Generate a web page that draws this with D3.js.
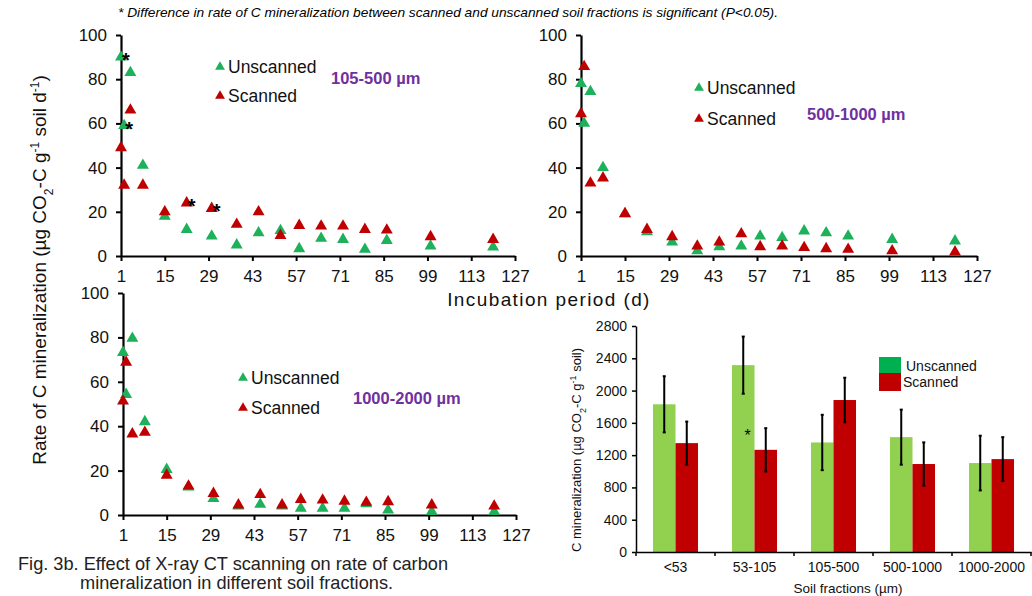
<!DOCTYPE html>
<html>
<head>
<meta charset="utf-8">
<script src="https://cdn.jsdelivr.net/npm/d3@7/dist/d3.min.js"></script>
<style>
  body { margin: 0; background: #fff; }
  svg text { font-family: "Liberation Sans", Arial, sans-serif; }
</style>
</head>
<body>
<div id="chart"></div>
<script>
// sampling days of the incubation (same for every fraction)
let days = [1, 2, 4, 8, 15, 22, 30, 38, 45, 52, 58, 65, 72, 79, 86, 100, 120];

// rate of C mineralization, ug CO2-C g-1 soil d-1
let unscanned105 = [90, 59, 83, 41, 18, 12, 9, 5, 10.5, 11.5, 3.3, 8, 7.5, 3, 7, 4.5, 4];
let scanned105 = [49, 32, 66, 32, 20, 24, 21.5, 14.3, 20, 9.3, 13.8, 13.5, 13.5, 12, 11.7, 8.7, 7.5];
let unscanned500 = [78, 60, 74.4, 40, 19, 11, 6.3, 2.3, 4.2, 4.5, 9, 8.3, 11.3, 10.5, 9, 7.5, 6.8];
let scanned500 = [64.4, 85.7, 33, 35.3, 19.2, 12, 8.7, 4.5, 6.3, 10, 4.2, 4.5, 3.8, 3.3, 3, 2.3, 1.8];
let unscanned1000 = [73.2, 54.3, 79.6, 42, 20.5, 12.6, 7.4, 4, 4.8, 4, 3, 3, 3, 5, 2.2, 1.5, 1.5];
let scanned1000 = [51.3, 68.8, 36.5, 37.2, 17.9, 13, 9.7, 4.5, 9.2, 4.5, 7, 6.7, 6.2, 5.7, 6, 4.5, 4];

// significant differences marked with *  (series, day)
let signif105 = [["u", 1], ["u", 2], ["s", 22], ["s", 30]];

let dayTicks = [1, 15, 29, 43, 57, 71, 85, 99, 113, 127];
let rateTicks = [0, 20, 40, 60, 80, 100];

// cumulative C mineralization per soil fraction
let fractions = ["<53", "53-105", "105-500", "500-1000", "1000-2000"];
let totalUnscanned = [1830, 2315, 1357, 1423, 1102];
let totalScanned = [1349, 1266, 1883, 1090, 1151];
let errUnscanned = [348, 354, 343, 341, 339];
let errScanned = [267, 268, 276, 268, 272];
let totalTicks = [0, 400, 800, 1200, 1600, 2000, 2400, 2800];
let signifFraction = "53-105";

let green = "#1cb15a", red = "#c00000", purple = "#7030a0";
let barGreen = "#92d050", legendGreen = "#00b050";

let svg = d3.select("#chart").append("svg")
  .attr("width", 1032)
  .attr("height", 596);

// note on top
svg.append("text")
  .attr("x", 118).attr("y", 17)
  .attr("font-size", 13.5)
  .attr("font-style", "italic")
  .attr("textLength", 660)
  .attr("lengthAdjust", "spacingAndGlyphs")
  .text("* Difference in rate of C mineralization between scanned and unscanned soil fractions is significant (P<0.05).");

let tri = d3.symbol().type(d3.symbolTriangle);

function drawPanel(p) {
  let x = d3.scaleLinear().domain([1, 127]).range([p.left, p.right]);
  let y = d3.scaleLinear().domain([0, 100]).range([p.bottom, p.top]);

  let g = svg.append("g");

  let xAxis = g.append("g")
    .attr("transform", `translate(0,${p.bottom})`)
    .call(d3.axisBottom(x).tickValues(dayTicks).tickSize(5).tickPadding(9).tickSizeOuter(0));
  let yAxis = g.append("g")
    .attr("transform", `translate(${p.left},0)`)
    .call(d3.axisLeft(y).tickValues(rateTicks).tickSize(5).tickPadding(9).tickSizeOuter(0));

  [xAxis, yAxis].forEach(function (a) {
    a.select(".domain").attr("stroke", "#000").attr("stroke-width", 2.2);
    a.selectAll(".tick line").attr("stroke", "#000").attr("stroke-width", 2);
    a.selectAll(".tick text").attr("font-size", 17).attr("fill", "#111");
  });

  // unscanned first, scanned on top
  let series = [
    { values: p.unscanned, color: green },
    { values: p.scanned, color: red }
  ];
  series.forEach(function (s) {
    g.selectAll(null)
      .data(days.map(function (d, i) { return { day: d, v: s.values[i] }; }))
      .enter()
      .append("path")
      .attr("d", tri.size(62))
      .attr("transform", function (d) { return `translate(${x(d.day)},${y(d.v)})`; })
      .attr("fill", s.color);
  });

  // asterisks
  (p.signif || []).forEach(function (m) {
    let vals = m[0] === "u" ? p.unscanned : p.scanned;
    let v = vals[days.indexOf(m[1])];
    g.append("text")
      .attr("x", x(m[1]) + 1)
      .attr("y", y(v) + 10)
      .attr("font-size", 20)
      .attr("font-weight", "bold")
      .text("*");
  });

  // legend
  let lg = [["Unscanned", green, p.legY], ["Scanned", red, p.legY + p.legGap]];
  lg.forEach(function (l) {
    g.append("path")
      .attr("d", tri.size(42))
      .attr("transform", `translate(${p.legX},${l[2]})`)
      .attr("fill", l[1]);
    g.append("text")
      .attr("x", p.legX + 8)
      .attr("y", l[2])
      .attr("dy", "0.35em")
      .attr("font-size", 17.5)
      .attr("fill", "#111")
      .text(l[0]);
  });

  g.append("text")
    .attr("x", p.labX)
    .attr("y", p.labY)
    .attr("dy", "0.35em")
    .attr("font-size", 16.5)
    .attr("font-weight", "bold")
    .attr("fill", purple)
    .text(p.label);
}

drawPanel({ left: 121, right: 515, top: 35, bottom: 256,
  unscanned: unscanned105, scanned: scanned105, signif: signif105,
  legX: 220, legY: 67, legGap: 29, labX: 331, labY: 78, label: "105-500 \u00b5m" });
drawPanel({ left: 581, right: 977, top: 35, bottom: 256,
  unscanned: unscanned500, scanned: scanned500,
  legX: 699, legY: 88, legGap: 31, labX: 807, labY: 114, label: "500-1000 \u00b5m" });
drawPanel({ left: 123, right: 516, top: 293, bottom: 515,
  unscanned: unscanned1000, scanned: scanned1000,
  legX: 243, legY: 378, legGap: 30, labX: 353, labY: 398, label: "1000-2000 \u00b5m" });

// shared axis titles
let yt = svg.append("text")
  .attr("transform", "translate(46,270) rotate(-90)")
  .attr("text-anchor", "middle")
  .attr("font-size", 19)
  .attr("fill", "#111");
yt.append("tspan").text("Rate of C mineralization (\u00b5g CO");
yt.append("tspan").attr("font-size", 12).attr("baseline-shift", "sub").text("2");
yt.append("tspan").text("-C g");
yt.append("tspan").attr("font-size", 12).attr("baseline-shift", "super").text("-1");
yt.append("tspan").text(" soil d");
yt.append("tspan").attr("font-size", 12).attr("baseline-shift", "super").text("-1");
yt.append("tspan").text(")");

svg.append("text")
  .attr("x", 549).attr("y", 306)
  .attr("text-anchor", "middle")
  .attr("font-size", 19)
  .attr("letter-spacing", 1.4)
  .attr("fill", "#111")
  .text("Incubation period (d)");

// caption
svg.append("text")
  .attr("x", 18).attr("y", 570)
  .attr("font-size", 18.2)
  .attr("fill", "#222")
  .text("Fig. 3b. Effect of X-ray CT scanning on rate of carbon");
svg.append("text")
  .attr("x", 80).attr("y", 589)
  .attr("font-size", 18.2)
  .attr("fill", "#222")
  .text("mineralization in different soil fractions.");

// ---- bar chart of total C mineralization ----
let bar = { left: 636, right: 1031, top: 326, bottom: 552 };
let xb = d3.scaleBand().domain(fractions).range([bar.left, bar.right])
  .paddingInner(0.43).paddingOuter(0.215);
let xs = d3.scaleBand().domain(["u", "s"]).range([0, xb.bandwidth()]);
let yb = d3.scaleLinear().domain([0, 2800]).range([bar.bottom, bar.top]);

let bg = svg.append("g");

let barData = [];
fractions.forEach(function (f, i) {
  barData.push({ f: f, k: "u", v: totalUnscanned[i], e: errUnscanned[i] });
  barData.push({ f: f, k: "s", v: totalScanned[i], e: errScanned[i] });
});

bg.selectAll("rect.bar")
  .data(barData)
  .enter()
  .append("rect")
  .attr("class", "bar")
  .attr("x", function (d) { return xb(d.f) + xs(d.k); })
  .attr("width", xs.bandwidth())
  .attr("y", function (d) { return yb(d.v); })
  .attr("height", function (d) { return yb(0) - yb(d.v); })
  .attr("fill", function (d) { return d.k === "u" ? barGreen : red; });

// error bars
let eb = bg.selectAll("g.err")
  .data(barData)
  .enter()
  .append("g")
  .attr("class", "err")
  .attr("transform", function (d) { return `translate(${xb(d.f) + xs(d.k) + xs.bandwidth() / 2},0)`; });
eb.append("line")
  .attr("y1", function (d) { return yb(d.v + d.e); })
  .attr("y2", function (d) { return yb(d.v - d.e); })
  .attr("stroke", "#000").attr("stroke-width", 2);
eb.append("line")
  .attr("x1", -1.5).attr("x2", 1.5)
  .attr("y1", function (d) { return yb(d.v + d.e); })
  .attr("y2", function (d) { return yb(d.v + d.e); })
  .attr("stroke", "#000").attr("stroke-width", 2);
eb.append("line")
  .attr("x1", -1.5).attr("x2", 1.5)
  .attr("y1", function (d) { return yb(d.v - d.e); })
  .attr("y2", function (d) { return yb(d.v - d.e); })
  .attr("stroke", "#000").attr("stroke-width", 2);

// axes
let byAxis = bg.append("g")
  .attr("transform", `translate(${bar.left},0)`)
  .call(d3.axisLeft(yb).tickValues(totalTicks).tickFormat(d3.format("d"))
    .tickSize(4).tickPadding(5).tickSizeOuter(0));
let bxAxis = bg.append("g")
  .attr("transform", `translate(0,${bar.bottom})`)
  .call(d3.axisBottom(xb).tickSize(0).tickPadding(10).tickSizeOuter(0));
[byAxis, bxAxis].forEach(function (a) {
  a.select(".domain").attr("stroke", "#000").attr("stroke-width", 1.5);
  a.selectAll(".tick line").attr("stroke", "#000").attr("stroke-width", 1.5);
  a.selectAll(".tick text").attr("font-size", 14).attr("fill", "#111");
});
// category separators below the x axis
bg.selectAll("line.sep")
  .data(d3.range(fractions.length + 1))
  .enter()
  .append("line")
  .attr("class", "sep")
  .attr("x1", function (i) { return bar.left + i * xb.step(); })
  .attr("x2", function (i) { return bar.left + i * xb.step(); })
  .attr("y1", bar.bottom).attr("y2", bar.bottom + 4)
  .attr("stroke", "#000").attr("stroke-width", 1.5);

// asterisk next to the significant pair
let si = fractions.indexOf(signifFraction);
bg.append("text")
  .attr("x", xb(signifFraction) + xs("s") - 10)
  .attr("y", yb(totalScanned[si]) - 9)
  .attr("font-size", 16)
  .text("*");

let byt = bg.append("text")
  .attr("transform", "translate(581,450) rotate(-90)")
  .attr("text-anchor", "middle")
  .attr("font-size", 13)
  .attr("fill", "#111");
byt.append("tspan").text("C mineralization (\u00b5g CO");
byt.append("tspan").attr("font-size", 9).attr("baseline-shift", "sub").text("2");
byt.append("tspan").text("-C g");
byt.append("tspan").attr("font-size", 9).attr("baseline-shift", "super").text("-1");
byt.append("tspan").text(" soil)");

bg.append("text")
  .attr("x", 848).attr("y", 593)
  .attr("text-anchor", "middle")
  .attr("font-size", 13.5)
  .attr("fill", "#111")
  .text("Soil fractions (\u00b5m)");

// legend
[["Unscanned", legendGreen, 357], ["Scanned", red, 373]].forEach(function (l) {
  bg.append("rect")
    .attr("x", 879).attr("y", l[2])
    .attr("width", 22).attr("height", l[0] === "Unscanned" ? 16 : 18)
    .attr("fill", l[1]);
  bg.append("text")
    .attr("x", l[0] === "Unscanned" ? 906 : 903)
    .attr("y", l[2] + 9)
    .attr("dy", "0.35em")
    .attr("font-size", 14)
    .attr("fill", "#111")
    .text(l[0]);
});
</script>
</body>
</html>
